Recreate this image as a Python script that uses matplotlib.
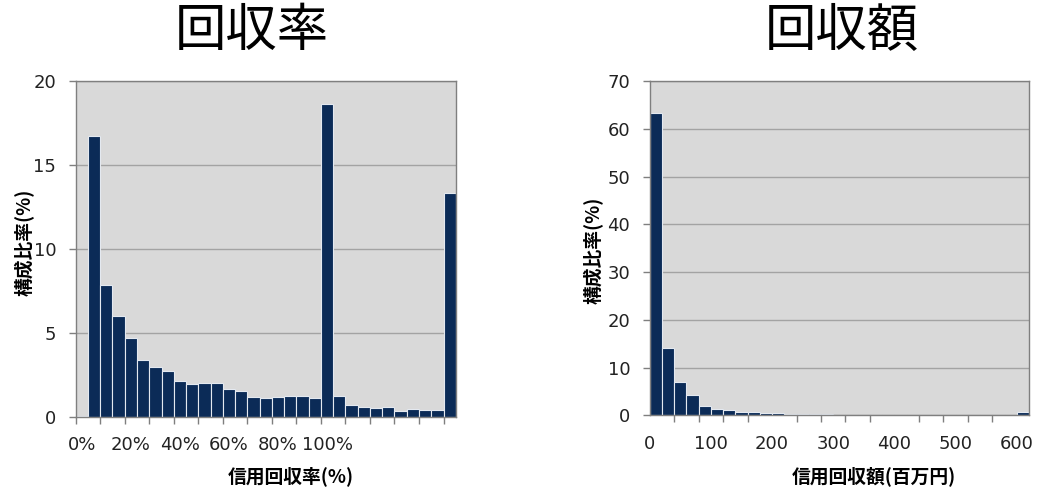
import numpy as np
import matplotlib
matplotlib.use("Agg")
import matplotlib.pyplot as plt

# share of loans (%) per recovery-rate bin, 5% steps, last bin is "over"
rate_share = [0.05, 16.72, 7.83, 6.00, 4.69, 3.38, 2.98, 2.70, 2.11, 1.93,
              2.01, 2.03, 1.63, 1.55, 1.17, 1.11, 1.17, 1.23, 1.25, 1.13,
              18.63, 1.25, 0.68, 0.58, 0.52, 0.56, 0.34, 0.44, 0.40, 0.40,
              13.31]
rate_tick_labels = ["0%", "20%", "40%", "60%", "80%", "100%"]

# share of loans (%) per recovered amount bin, 20 (million yen) steps
amount_share = [63.2, 14.1, 6.98, 4.19, 1.95, 1.25, 1.08, 0.62, 0.60, 0.50,
                0.48, 0.36, 0.34, 0.26, 0.22, 0.12, 0.12, 0.10, 0.10, 0.03,
                0.03, 0.15, 0.03, 0.02, 0.02, 0.02, 0.02, 0.02, 0.02, 0.02,
                0.65]
amount_bin = 20
amount_tick_labels = [0, 100, 200, 300, 400, 500, 600]

BAR = "#0b2b57"
BG = "#d9d9d9"
GRID = "#a3a3a3"
EDGE = "#7f7f7f"
JP = ["Noto Sans CJK JP", "DejaVu Sans"]

plt.rcParams["font.family"] = ["DejaVu Sans"]

fig = plt.figure(figsize=(10.37, 4.88), dpi=100)
ax1 = fig.add_axes([0.073, 0.1461, 0.3665, 0.688])
ax2 = fig.add_axes([0.6265, 0.149, 0.3658, 0.685])


def style(ax, ymax, ystep):
    ax.set_facecolor(BG)
    ax.set_ylim(0, ymax)
    ax.set_yticks(np.arange(0, ymax + 1, ystep))
    ax.yaxis.grid(True, color=GRID, linewidth=1.0)
    ax.set_axisbelow(True)
    for s in ax.spines.values():
        s.set_color(EDGE)
        s.set_linewidth(1.0)
    ax.tick_params(axis="y", which="major", length=5, width=1, color=EDGE,
                   pad=9, labelsize=13, labelcolor="#222222")
    ax.tick_params(axis="x", which="both", labelsize=13, labelcolor="#222222",
                   color=EDGE, width=1)


# recovery rate
style(ax1, 20, 5)
x1 = np.arange(len(rate_share))
ax1.bar(x1, rate_share, width=1.0, align="edge", color=BAR,
        edgecolor="#e4e9f0", linewidth=0.8)
ax1.set_xlim(0, len(rate_share))
ax1.set_xticks(np.arange(0, len(rate_share), 2), minor=True)
ax1.set_xticks(np.arange(len(rate_tick_labels)) * 4 + 0.5)
ax1.set_xticklabels(rate_tick_labels)
ax1.tick_params(axis="x", which="minor", length=5)
ax1.tick_params(axis="x", which="major", length=0, pad=14)

# recovered amount
style(ax2, 70, 10)
x2 = np.arange(len(amount_share)) * amount_bin
ax2.bar(x2, amount_share, width=amount_bin, align="edge", color=BAR,
        edgecolor="#e4e9f0", linewidth=0.8)
ax2.set_xlim(0, len(amount_share) * amount_bin)
ax2.set_xticks(np.arange(0, 601, 2 * amount_bin), minor=True)
ax2.set_xticks(amount_tick_labels)
ax2.set_xticklabels([str(v) for v in amount_tick_labels])
ax2.tick_params(axis="x", which="minor", length=5)
ax2.tick_params(axis="x", which="major", length=0, pad=14)

# titles and axis labels
fig.text(251.7 / 1037, 1 - 31 / 488, "回収率", family=JP, fontsize=37,
         ha="center", va="center")
fig.text(841.7 / 1037, 1 - 31 / 488, "回収額", family=JP, fontsize=37,
         ha="center", va="center")
fig.text(290.5 / 1037, 1 - 476 / 488, "信用回収率(%)", family=JP,
         fontsize=13.5, fontweight="bold", ha="center", va="center")
fig.text(874 / 1037, 1 - 476 / 488, "信用回収額(百万円)", family=JP,
         fontsize=13.5, fontweight="bold", ha="center", va="center")
fig.text(25 / 1037, 1 - 242 / 488, "構成比率(%)", family=JP, fontsize=13.5,
         fontweight="bold", ha="center", va="center", rotation=90)
fig.text(594 / 1037, 1 - 250 / 488, "構成比率(%)", family=JP, fontsize=13.5,
         fontweight="bold", ha="center", va="center", rotation=90)

fig.savefig("out.png", dpi=100, facecolor="white")
